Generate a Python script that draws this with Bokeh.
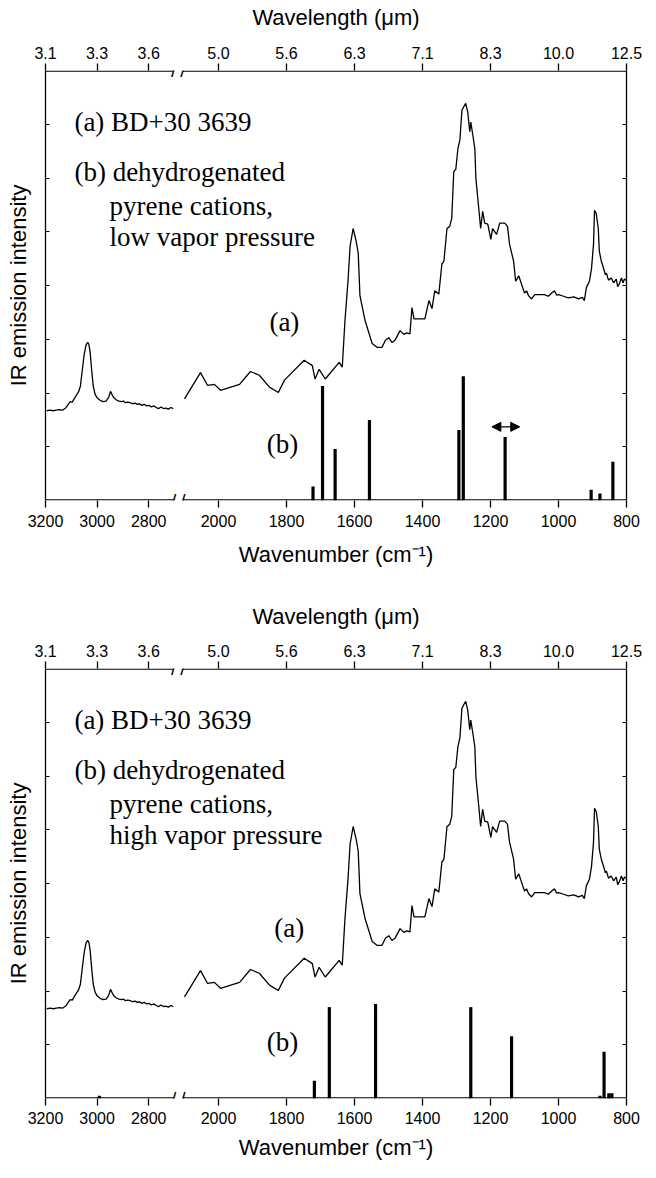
from bokeh.plotting import figure
from bokeh.models import (Range1d, LinearAxis, FixedTicker, CustomJSTickFormatter,
                          Label, Arrow, NormalHead)
from bokeh.layouts import column
from bokeh.embed import file_html
from bokeh.resources import INLINE

# ---------------- data ----------------
bottom_ticks = [3200, 3000, 2800, 2000, 1800, 1600, 1400, 1200, 1000, 800]
bottom_tick_labels = ["3200", "3000", "2800", "2000", "1800", "1600", "1400", "1200", "1000", "800"]
top_tick_labels = ["3.1", "3.3", "3.6", "5.0", "5.6", "6.3", "7.1", "8.3", "10.0", "12.5"]

# BD+30 3639 spectrum, 3.3 um segment (cm-1, intensity)
spec_left_wn = [3195, 3182, 3170, 3158, 3146, 3134, 3122, 3112, 3104, 3096, 3088, 3080,
                3072, 3065, 3058, 3050, 3043, 3037, 3032, 3027, 3021, 3015, 3008, 3000,
                2990, 2978, 2965, 2955, 2948, 2942, 2935, 2925, 2915, 2906, 2898, 2890,
                2881, 2872, 2862, 2853, 2844, 2836, 2827, 2818, 2808, 2799, 2790, 2780,
                2771, 2762, 2752, 2743, 2733, 2724, 2714, 2705]
spec_left_y = [1.67, 1.68, 1.67, 1.68, 1.69, 1.68, 1.72, 1.79, 1.84, 1.83, 1.90, 1.96,
               2.02, 2.12, 2.40, 2.72, 2.89, 2.94, 2.91, 2.76, 2.42, 2.13, 1.98, 1.91,
               1.87, 1.84, 1.85, 1.92, 2.03, 1.97, 1.91, 1.87, 1.85, 1.84, 1.85, 1.82,
               1.83, 1.82, 1.80, 1.81, 1.79, 1.80, 1.77, 1.79, 1.76, 1.77, 1.74, 1.76,
               1.73, 1.71, 1.74, 1.71, 1.72, 1.70, 1.73, 1.71]

# BD+30 3639 spectrum, 5-12.5 um segment
spec_right_wn = [2100, 2053, 2032, 2012, 1994, 1938, 1906, 1880, 1850, 1824, 1806, 1748,
                 1724, 1716, 1704, 1686, 1645, 1636, 1628, 1619, 1613, 1604, 1595, 1589,
                 1584, 1569, 1548, 1534, 1519, 1509, 1499, 1490, 1481, 1466, 1455, 1446,
                 1437, 1431, 1425, 1393, 1381, 1372, 1364, 1352, 1343, 1337, 1328, 1320,
                 1314, 1308, 1302, 1296, 1290, 1284, 1279, 1273, 1267, 1261, 1258, 1252,
                 1246, 1243, 1235, 1229, 1223, 1217, 1208, 1199, 1194, 1182, 1173, 1158,
                 1150, 1144, 1132, 1126, 1117, 1109, 1100, 1094, 1088, 1079, 1070, 1041,
                 1030, 1020, 1012, 1005, 1000, 985, 971, 955, 941, 930, 924, 918, 909,
                 903, 897, 894, 889, 883, 880, 874, 868, 862, 859, 853, 845, 838, 830,
                 826, 821, 815, 810, 806, 802]
spec_right_y = [1.89, 2.38, 2.14, 2.16, 2.05, 2.16, 2.40, 2.33, 2.11, 2.01, 2.24, 2.61,
                2.51, 2.26, 2.44, 2.26, 2.57, 2.48, 3.35, 4.09, 4.73, 5.06, 4.82, 4.60,
                3.81, 3.35, 2.92, 2.85, 2.85, 2.98, 3.03, 2.94, 2.98, 3.16, 3.09, 3.12,
                3.10, 3.59, 3.38, 3.38, 3.72, 3.57, 3.90, 3.84, 4.40, 4.45, 5.06, 5.10,
                5.25, 6.12, 6.16, 6.54, 6.71, 7.26, 7.32, 7.39, 7.23, 6.86, 7.04, 6.80,
                6.54, 5.99, 5.47, 5.06, 5.38, 5.16, 5.14, 4.86, 5.06, 4.95, 5.16, 5.16,
                5.10, 4.77, 4.45, 4.08, 4.18, 4.03, 3.86, 3.90, 3.81, 3.75, 3.83, 3.83,
                3.80, 3.86, 3.90, 3.82, 3.83, 3.80, 3.77, 3.79, 3.75, 3.78, 3.72, 3.96, 4.08,
                4.31, 4.77, 5.40, 5.34, 5.06, 4.64, 4.45, 4.33, 4.20, 4.23, 4.10, 4.14, 4.05, 4.12,
                3.98, 4.03, 4.14, 4.05, 4.12, 4.10]

# (b) dehydrogenated pyrene cations, low vapor pressure
bars_low_wn = [1722, 1694, 1657, 1556, 1293, 1280, 1157, 904, 878, 840]
bars_low_h = [0.26, 2.13, 0.96, 1.50, 1.31, 2.31, 1.18, 0.20, 0.13, 0.72]

# (b) dehydrogenated pyrene cations, high vapor pressure
bars_high_wn = [2991, 1718, 1674, 1538, 1258, 1138, 878, 866, 852, 843]
bars_high_h = [0.05, 0.33, 1.70, 1.76, 1.70, 1.16, 0.05, 0.87, 0.10, 0.10]

# ---------------- broken-axis mapping ----------------
LEFT_HI, LEFT_LO = 3200, 2700
RIGHT_HI, RIGHT_LO = 2100, 800
GAP = 38.8
RSCALE = 1.318
XMAX = (LEFT_HI - LEFT_LO) + GAP + (RIGHT_HI - RIGHT_LO) * RSCALE


def xmap(w):
    if w >= 2400:
        return LEFT_HI - w
    return (LEFT_HI - LEFT_LO) + GAP + (RIGHT_HI - w) * RSCALE


tick_u = [xmap(t) for t in bottom_ticks]
BREAK_L = xmap(LEFT_LO) - 3
BREAK_R = xmap(RIGHT_HI) - 6

SANS = "Liberation Sans"
SERIF = "Liberation Serif"


def lookup_formatter(labels):
    return CustomJSTickFormatter(args=dict(pos=tick_u, lab=labels), code="""
        let best = 0, bd = 1e12;
        for (let i = 0; i < pos.length; i++) {
            const d = Math.abs(pos[i] - tick);
            if (d < bd) { bd = d; best = i; }
        }
        return lab[best];
    """)


def style_x_axis(ax, lab_standoff, title_standoff):
    ax.axis_line_color = None
    ax.major_tick_out = 7
    ax.major_tick_in = 0
    ax.minor_tick_line_color = None
    ax.major_tick_line_color = "black"
    ax.major_tick_line_width = 1.3
    ax.major_label_text_font = SANS
    ax.major_label_text_font_size = "16px"
    ax.major_label_text_color = "black"
    ax.major_label_standoff = lab_standoff
    ax.axis_label_text_font = SANS
    ax.axis_label_text_font_size = "22px"
    ax.axis_label_text_font_style = "normal"
    ax.axis_label_text_color = "black"
    ax.axis_label_standoff = title_standoff


def style_y_axis(ax):
    ax.axis_line_color = "black"
    ax.axis_line_width = 1.3
    ax.major_tick_in = 4
    ax.major_tick_out = 0
    ax.major_tick_line_width = 1.0
    ax.minor_tick_line_color = None
    ax.major_label_text_font_size = "1px"
    ax.major_label_standoff = 0


def make_panel(height, top_border, bottom_border, top_title_standoff, bottom_lab_standoff,
               bottom_title_standoff, bars_wn, bars_h, third_line, arrow, a_pos):
    p = figure(width=648, height=height, x_range=Range1d(0, XMAX), y_range=Range1d(0, 8),
               output_backend="svg", toolbar_location=None,
               x_axis_location=None, y_axis_location=None,
               min_border_left=45, min_border_right=22,
               min_border_top=top_border, min_border_bottom=bottom_border)
    p.outline_line_color = None
    p.grid.visible = False
    p.background_fill_color = "white"

    xb = LinearAxis(ticker=FixedTicker(ticks=tick_u), formatter=lookup_formatter(bottom_tick_labels),
                    axis_label="Wavenumber (cm⁻¹)")
    style_x_axis(xb, bottom_lab_standoff, bottom_title_standoff)
    p.add_layout(xb, "below")
    xt = LinearAxis(ticker=FixedTicker(ticks=tick_u), formatter=lookup_formatter(top_tick_labels),
                    axis_label="Wavelength (μm)")
    style_x_axis(xt, 5, top_title_standoff)
    p.add_layout(xt, "above")

    yl = LinearAxis(ticker=FixedTicker(ticks=[1, 2, 3, 4, 5, 6, 7]),
                    formatter=CustomJSTickFormatter(code="return '';"),
                    axis_label="IR emission intensity")
    style_y_axis(yl)
    yl.axis_label_text_font = SANS
    yl.axis_label_text_font_size = "22px"
    yl.axis_label_text_font_style = "normal"
    yl.axis_label_text_color = "black"
    yl.axis_label_standoff = 15
    p.add_layout(yl, "left")
    yr = LinearAxis(ticker=FixedTicker(ticks=[1, 2, 3, 4, 5, 6, 7]),
                    formatter=CustomJSTickFormatter(code="return '';"))
    style_y_axis(yr)
    p.add_layout(yr, "right")

    # horizontal frame lines with the axis break
    eps = 0.013
    p.segment(x0=[0, BREAK_R, 0, BREAK_R], x1=[BREAK_L, XMAX, BREAK_L, XMAX],
              y0=[eps, eps, 8 - eps, 8 - eps], y1=[eps, eps, 8 - eps, 8 - eps],
              line_color="black", line_width=1.3)
    for yy in (0, 8):
        for xx in (BREAK_L, BREAK_R):
            p.add_layout(Label(x=xx, y=yy, text="/", text_font=SANS, text_font_size="19px",
                               text_align="center", text_baseline="middle", text_color="black"))

    # spectrum (a)
    p.line([xmap(w) for w in spec_left_wn], spec_left_y, line_color="black", line_width=1.3)
    p.line([xmap(w) for w in spec_right_wn], spec_right_y, line_color="black", line_width=1.3)

    # calculated bands (b)
    bx = [xmap(w) for w in bars_wn]
    p.segment(x0=bx, x1=bx, y0=[0] * len(bx), y1=bars_h, line_color="black",
              line_width=3.2, line_cap="butt")

    if arrow:
        for xe in (xmap(1196), xmap(1114)):
            p.add_layout(Arrow(x_start=xmap(1157), x_end=xe, y_start=1.37, y_end=1.37,
                               line_width=1.3,
                               end=NormalHead(size=9, fill_color="black", line_color="black")))

    # text annotations
    def txt(x, y, s, align="left"):
        p.add_layout(Label(x=x, y=y, text=s, text_font=SERIF, text_font_size="27px",
                           text_align=align, text_baseline="middle", text_color="black"))

    txt(112, 7.04, "(a) BD+30 3639")
    txt(112, 6.11, "(b) dehydrogenated")
    txt(248, 5.48, "pyrene cations,")
    txt(248, 4.91, third_line)
    txt(a_pos[0], a_pos[1], "(a)", "center")
    txt(919, 1.06, "(b)", "center")
    return p


p1 = make_panel(600, 70, 100, 14, 7, 12, bars_low_wn, bars_low_h,
                "low vapor pressure", True, (926, 3.33))
p2 = make_panel(562, 68, 64, 13, 6, 8, bars_high_wn, bars_high_h,
                "high vapor pressure", False, (945, 3.18))
layout = column(p1, p2, spacing=0)

open("out.html", "w").write(file_html(layout, INLINE))
